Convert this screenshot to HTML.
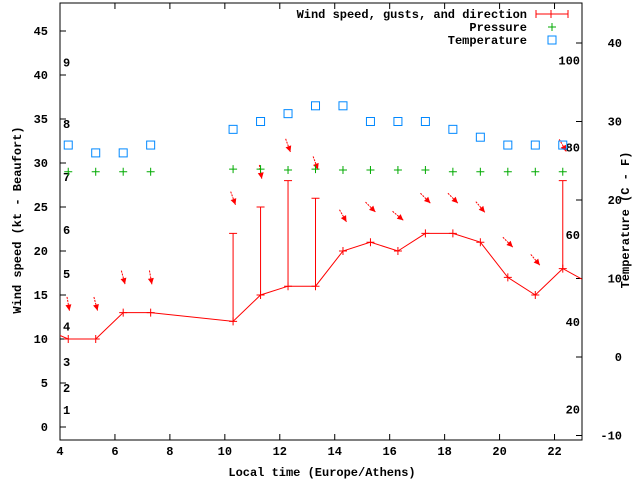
<!DOCTYPE html>
<html><head><meta charset="utf-8"><style>
body{margin:0;background:#fff}
svg text{font-family:"Liberation Mono",monospace;font-size:12px;font-weight:bold;fill:#000}
</style></head><body>
<svg id="c" width="640" height="480" xmlns="http://www.w3.org/2000/svg"></svg>
<script>
const hours=[4.3,5.3,6.3,7.3,10.3,11.3,12.3,13.3,14.3,15.3,16.3,17.3,18.3,19.3,20.3,21.3,22.3];
const wind=[10,10,13,13,12,15,16,16,20,21,20,22,22,21,17,15,18];
const gusts=[null,null,null,null,22,25,28,26,null,null,null,null,null,null,null,null,28];
const dirs=[350,345,345,350,340,350,340,340,330,315,310,315,315,320,315,320,330];
const pressure=[29,29,29,29,29.3,29.3,29.2,29.3,29.2,29.2,29.2,29.2,29,29,29,29,29];
const tempC=[27,26,26,27,29,30,31,32,32,30,30,30,29,28,27,27,27];
const xTicks=[4,6,8,10,12,14,16,18,20,22];
const yTicks=[0,5,10,15,20,25,30,35,40,45];
const cTicks=[-10,0,10,20,30,40];
const fTicks=[20,40,60,80,100];
const bftTicks=[1,2,3,4,5,6,7,8,9];

const L=60,R=582,T=3,B=440;
const X=h=>L+(h-4)*(R-L)/19;
const Y=v=>427-v*8.8;
const YC=c=>357-c*7.85;
const YF=f=>YC((f-32)*5/9);
const bft=[0,1,3.5,6.5,10.5,16.5,21.5,27.5,33.5,40.5];
const svg=document.getElementById('c');
const NS='http://www.w3.org/2000/svg';
function mk(tag,attrs,txt){const e=document.createElementNS(NS,tag);for(const k in attrs)e.setAttribute(k,attrs[k]);if(txt!=null)e.textContent=txt;svg.appendChild(e);return e;}

let e=mk('rect',{x:L,y:T,width:R-L,height:B-T,fill:'none',stroke:'#000','stroke-width':1});


xTicks.forEach(t=>{
 let l=mk('path',{d:`M${X(t)},${B}v-6M${X(t)},${T}v6`,stroke:'#000'});
 
 
 let s=mk('text',{x:X(t),y:B+15,'text-anchor':'middle'},t);
 
 
});
yTicks.forEach(t=>{
 let l=mk('path',{d:`M${L},${Y(t)}h6`,stroke:'#000'});
 
 
 let s=mk('text',{x:L-12,y:Y(t)+4,'text-anchor':'end'},t);
 
 
});
cTicks.forEach(t=>{
 let l=mk('path',{d:`M${R},${YC(t)}h-6`,stroke:'#000'});
 
 
 let s=mk('text',{x:R+40,y:YC(t)+4,'text-anchor':'end'},t);
 
 
});
fTicks.forEach(t=>{
 let s=mk('text',{x:R-2,y:YF(t)+4,'text-anchor':'end'},t);
 
 
});
bftTicks.forEach(t=>{
 let s=mk('text',{x:63,y:Y(bft[t])-4},t);
 
 
});

// clip
const defs=mk('defs',{});
const cp=document.createElementNS(NS,'clipPath');cp.setAttribute('id','cl');
const cr=document.createElementNS(NS,'rect');cr.setAttribute('x',L);cr.setAttribute('y',T);cr.setAttribute('width',R-L);cr.setAttribute('height',B-T);
cp.appendChild(cr);defs.appendChild(cp);

// wind line, extended to edges
let d=`M${X(4)},${Y(10.4)}`;
hours.forEach((h,i)=>d+=`L${X(h)},${Y(wind[i])}`);
d+=`L${X(23)},${Y(16.8)}`;
e=mk('path',{d,fill:'none',stroke:'#f00','clip-path':'url(#cl)'});


hours.forEach((h,i)=>{
 const x=X(h),y=Y(wind[i]);
 let p=mk('path',{d:`M${x-4},${y}h8M${x},${y-4}v8`,stroke:'#f00'});
 
 
 if(gusts[i]!=null){
  const g=Y(gusts[i]);
  let b=mk('path',{d:`M${x},${y}V${g}M${x-4},${g}h8`,stroke:'#f00'});
  
  
 }
 const top=Math.max(wind[i],gusts[i]||0)+4;
 const cy=Y(top),r=dirs[i]*Math.PI/180;
 const dx=-Math.sin(r)*14,dy=Math.cos(r)*14;
 const x0=x-dx/2,y0=cy-dy/2,x1=x+dx/2,y1=cy+dy/2;
 const ux=dx/14,uy=dy/14;
 let a=mk('path',{d:`M${x0},${y0}L${x1},${y1}`,stroke:'#f00','stroke-dasharray':'2,1'});
 
 
 let hd=mk('polygon',{points:`${x1},${y1} ${x1-ux*6-uy*3},${y1-uy*6+ux*3} ${x1-ux*6+uy*3},${y1-uy*6-ux*3}`,fill:'#f00'});
 
 
 let pp=mk('path',{d:`M${x-4},${Y(pressure[i])}h8M${x},${Y(pressure[i])-4}v8`,stroke:'#0a0'});
 
 
 let tt=mk('rect',{x:x-4,y:YC(tempC[i])-4,width:8,height:8,fill:'none',stroke:'#08f'});
 
 
});

// legend
const leg=[['Wind speed, gusts, and direction',14],['Pressure',27],['Temperature',40]];
leg.forEach(([t,y],i)=>{
 let s=mk('text',{x:527,y:y+4,'text-anchor':'end'},t);
 
 
});
e=mk('path',{d:'M536,14h32M536,10v8M568,10v8M551,10v8',stroke:'#f00'});

e=mk('path',{d:'M548,27h8M552,23v8',stroke:'#0a0'});

e=mk('rect',{x:548,y:36,width:8,height:8,fill:'none',stroke:'#08f'});


e=mk('text',{x:322,y:476,'text-anchor':'middle'},'Local time (Europe/Athens)');

e=mk('text',{x:0,y:0,'text-anchor':'middle',transform:'translate(21,220) rotate(-90)'},'Wind speed (kt - Beaufort)');

e=mk('text',{x:0,y:0,'text-anchor':'middle',transform:'translate(629,220) rotate(-90)'},'Temperature (C - F)');

</script>
</body></html>
